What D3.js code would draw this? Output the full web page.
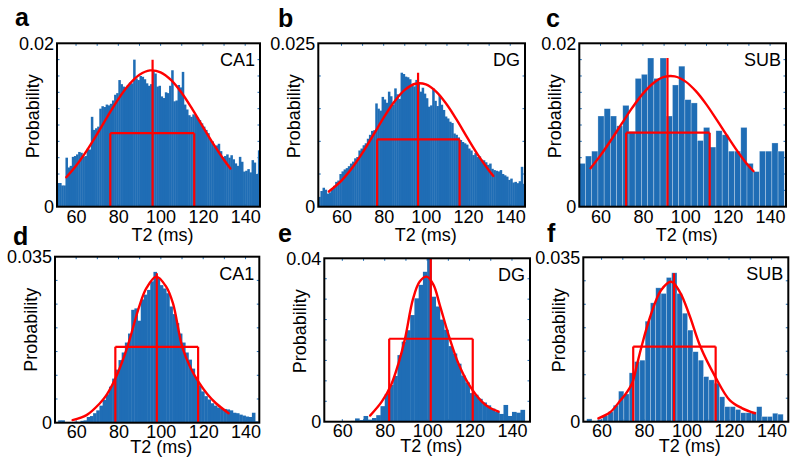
<!DOCTYPE html>
<html><head><meta charset="utf-8">
<script src="https://cdn.jsdelivr.net/npm/d3@7"></script>
<style>body{margin:0;background:#fff}svg{display:block;font-family:"Liberation Sans",Arial,sans-serif}</style>
</head><body><svg id="chart" width="800" height="467"></svg>
<script>
// ---------- data ----------
const panelLetters = ["a","b","c","d","e","f"];
const regions = ["CA1","DG","SUB","CA1","DG","SUB"];
const yMax = [0.02,0.025,0.02,0.035,0.04,0.035];
const yTopLabels = ["0.02","0.025","0.02","0.035","0.04","0.035"];
const yMinorStep = [0.002,0.005,0.002,0.005,0.005,0.005];
const xTickLabels = [60,80,100,120,140];
const xMinorTicks = [60,70,80,90,100,110,120,130,140];
const xDomains = [[51,147],[49,147],[50,147.5],[50,146.5],[51.5,148.5],[51.4,147.9]];
const binStarts = [51,49,50,50,52,53];
const binWidths = [1,1,2.93,1.5,2,2.5];
// histogram probabilities, in units of 1e-3
const histA = [2.9,2.9,2.6,2.6,6.0,4.8,5.0,6.1,6.2,6.4,
 6.7,6.6,6.1,6.2,7.1,7.0,11.0,9.4,9.6,9.8,
 12.0,12.3,12.2,12.5,12.4,12.6,13.0,13.7,13.9,15.5,
 15.0,14.7,14.6,14.9,15.2,15.1,18.0,15.7,15.5,16.0,
 15.9,15.6,15.1,14.8,15.0,16.6,16.3,14.7,14.8,13.5,
 13.3,14.0,13.9,14.8,16.7,12.9,13.0,14.9,14.6,16.5,
 12.5,11.9,11.2,11.0,11.3,11.1,10.9,10.6,10.2,9.8,
 9.4,9.0,8.2,8.0,7.3,7.5,7.7,6.8,6.1,6.2,
 6.4,6.0,6.3,5.8,5.3,5.0,6.1,5.5,4.3,4.4,
 4.6,4.2,5.7,5.4,4.0,6.9];
const histB = [1.5,2.4,2.9,2.6,2.0,2.2,2.8,3.2,3.8,4.0,
 5.0,5.4,5.7,5.9,6.2,6.6,6.9,7.4,7.6,8.6,
 8.9,9.4,9.7,10.4,11.0,11.6,11.7,15.8,15.0,14.7,
 16.8,16.4,15.9,17.6,16.9,15.6,18.1,17.2,16.5,20.5,
 20.3,19.9,19.8,19.5,18.6,18.4,19.4,19.0,17.6,18.2,
 17.3,16.6,15.3,15.5,18.1,16.2,15.4,17.1,15.6,14.8,
 13.8,13.5,13.0,12.8,11.2,11.0,10.6,10.2,9.9,9.7,
 9.5,8.9,8.6,7.9,8.2,7.6,7.7,7.2,7.1,6.8,
 6.4,6.6,5.8,5.6,5.5,5.4,5.6,5.0,4.8,4.6,
 4.1,4.3,3.7,3.8,3.6,3.9,6.1,3.5];
const histC = [5.3,6.2,6.8,11.1,12.0,11.1,9.9,12.4,9.2,15.7,
 16.2,18.2,15.7,18.2,11.1,14.9,17.2,13.1,12.7,8.1,
 9.7,7.3,9.3,8.8,6.8,6.8,9.7,5.3,4.3,6.8,
 6.8,7.8,6.8];
const histD = [0,0.5,0.5,0,0,0.1,0.2,0.2,0.4,0.5,
 1.2,1.4,2.0,2.6,3.6,4.8,6.0,7.6,9.3,11.2,
 13.2,14.8,16.9,18.8,23.8,24.1,21.5,26.0,27.0,28.0,
 29.8,31.8,30.6,29.0,28.3,27.3,24.5,22.9,21.0,18.8,
 16.9,14.8,13.3,11.4,9.4,7.9,6.6,5.6,4.9,4.1,
 3.6,3.2,3.0,2.9,2.8,2.6,2.1,2.0,1.7,1.5,
 1.3,1.2,2.1,0.3];
const histE = [0,0,0,0.1,0.15,0,0.2,0.8,0.4,1.4,
 0.5,0.9,1.6,3.8,6.8,9.0,11.2,16.3,19.6,22.4,
 26.1,30.2,33.5,36.7,40.0,30.6,28.2,25.0,22.5,18.5,
 16.7,14.2,11.3,9.6,7.0,6.6,5.6,4.7,4.0,3.2,
 2.4,1.9,4.1,1.4,2.4,2.2,2.9,0];
const histF = [0.6,0,0.5,1.3,2.1,3.5,6.5,5.9,10.4,12.8,
 13.1,21.4,25.3,28.5,27.3,30.7,31.7,27.3,23.1,19.5,
 14.9,13.1,9.6,8.9,8.2,5.3,3.2,3.2,2.6,1.9,
 1.9,2.1,3.2,1.1,1.1,1.8,1.6];
// fitted curves [T2, probability x1e-3]
const fitA = [[55.4,3.6],[60,5.01],[65,6.84],[70,8.91],[75,11.09],[80,13.17],[85,14.92],[90,16.15],[95,16.68],[100,16.45],[105,15.49],[110,13.92],[115,11.94],[120,9.78],[125,7.65],[130,5.71],[133,4.68]];
const fitB = [[54,2.32],[60,4.0],[65,5.92],[70,8.27],[75,10.92],[80,13.62],[85,16.05],[90,17.88],[95,18.81],[100,18.71],[105,17.58],[110,15.6],[115,13.09],[120,10.37],[125,7.77],[130,5.5],[132,4.71]];
const fitC = [[55.3,4.7],[60,6.28],[65,8.16],[70,10.16],[75,12.12],[80,13.84],[85,15.15],[90,15.88],[95,15.95],[100,15.34],[105,14.14],[110,12.49],[115,10.56],[120,8.56],[125,6.64],[130,4.94],[132.2,4.34]];
const fitD = [[58.3,0.56],[64.9,1.6],[71.2,4.1],[74.3,5.8],[78.5,9.3],[84.2,16.0],[88.4,22.5],[90,24.8],[93.1,28.3],[97.8,30.8],[102.5,28.7],[105.7,25.2],[110.1,16.0],[114,11.6],[117.8,8.6],[122,6.0],[126,4.1],[132,2.0]];
const fitE = [[73.1,1.5],[78.6,4.9],[83,9.0],[86.5,14.3],[89.6,20.4],[93.3,30.0],[96.5,34.3],[99.8,35.5],[103,33.5],[106,28.5],[110.6,20.4],[114.7,14.3],[119.8,9.0],[125.8,4.9],[129.5,3.4],[133.7,2.45]];
const fitF = [[58.5,0.7],[64,2.0],[69,4.6],[71.5,6.0],[74.5,8.3],[76.5,11.8],[78.7,15.8],[83,22.5],[88,28.0],[92.8,29.8],[97,27.5],[101.5,22.5],[106.5,16.0],[113.6,9.5],[120.3,4.6],[126,2.9],[132.2,1.8]];
// mean line (x, top x1e-3) and width box (left, right, height x1e-3)
const meanX = [96.2,96.3,91.6,98.1,101.7,94.1];
const meanTop = [18.0,20.5,18.2,31.5,40,31.6];
const boxLeft = [76.2,76.9,72.1,78.5,82.1,74.9];
const boxRight = [115.9,116,111.5,117.6,121.5,113.7];
const boxHeight = [9.0,10.3,9.06,16.0,20.3,16.0];

const hists = [histA,histB,histC,histD,histE,histF];
const fits = [fitA,fitB,fitC,fitD,fitE,fitF];

// ---------- layout ----------
const frames = [[57,260,43.3,206.7],[318.3,525,43.3,206.7],[579.3,786,43.3,206.7],
                [55,259.3,256.7,422.7],[324.3,530,258.3,421.7],[583.3,788.3,257.3,421.7]];
const letterPos = [[15,26],[278,26.5],[546,26.5],[13,245],[278,242],[547,242]];
const separated = [false,false,true,false,false,true];
const BLUE = "#1f6db5", RED = "#ff0000";
const FS = 18;

const svg = d3.select("#chart");
const defs = svg.append("defs");

frames.forEach((fr,i)=>{
  const [x0,x1,y0,y1] = fr;
  const row = i<3?0:1;
  const x = d3.scaleLinear().domain(xDomains[i]).range([x0,x1]);
  const y = d3.scaleLinear().domain([0,yMax[i]]).range([y1,y0]);
  const g = svg.append("g");
  defs.append("clipPath").attr("id","clip"+i).append("rect")
    .attr("x",x0).attr("y",y0).attr("width",x1-x0).attr("height",y1-y0);
  const plot = g.append("g").attr("clip-path",`url(#clip${i})`);

  const bs = binStarts[i], bw = binWidths[i];
  plot.selectAll("rect.bar").data(hists[i]).join("rect")
    .attr("class","bar")
    .attr("x",(d,j)=>x(bs+j*bw))
    .attr("width",(d,j)=>x(bs+(j+1)*bw)-x(bs+j*bw)+(separated[i]?0:0.4))
    .attr("y",d=>y(d*1e-3))
    .attr("height",d=>y(0)-y(d*1e-3))
    .attr("fill",BLUE)
    .attr("stroke",separated[i]?"rgba(255,255,255,0.45)":"none")
    .attr("stroke-width",0.6);

  // minor ticks (blue, inward)
  const tk = 2.5;
  xMinorTicks.forEach(v=>{
    plot.append("line").attr("x1",x(v)).attr("x2",x(v)).attr("y1",y0).attr("y2",y0+tk).attr("stroke",BLUE).attr("stroke-width",1);
    plot.append("line").attr("x1",x(v)).attr("x2",x(v)).attr("y1",y1).attr("y2",y1-tk).attr("stroke",BLUE).attr("stroke-width",1);
  });
  d3.range(yMinorStep[i], yMax[i]-1e-9, yMinorStep[i]).forEach(v=>{
    plot.append("line").attr("x1",x1).attr("x2",x1-tk).attr("y1",y(v)).attr("y2",y(v)).attr("stroke",BLUE).attr("stroke-width",1);
    plot.append("line").attr("x1",x0).attr("x2",x0+tk).attr("y1",y(v)).attr("y2",y(v)).attr("stroke",BLUE).attr("stroke-width",1);
  });

  // red box and mean line
  const addLine=(xa,ya,xb,yb)=>plot.append("line").attr("x1",xa).attr("y1",ya).attr("x2",xb).attr("y2",yb)
      .attr("stroke",RED).attr("stroke-width",2.2).attr("fill","none");
  addLine(x(boxLeft[i]),y(0),x(boxLeft[i]),y(boxHeight[i]*1e-3));
  addLine(x(boxRight[i]),y(0),x(boxRight[i]),y(boxHeight[i]*1e-3));
  addLine(x(boxLeft[i]),y(boxHeight[i]*1e-3),x(boxRight[i]),y(boxHeight[i]*1e-3));
  addLine(x(meanX[i]),y(0),x(meanX[i]),y(meanTop[i]*1e-3));

  // fitted curve
  const line = d3.line().x(d=>x(d[0])).y(d=>y(d[1]*1e-3)).curve(d3.curveCatmullRom.alpha(0.5));
  plot.append("path").attr("d",line(fits[i])).attr("fill","none").attr("stroke",RED).attr("stroke-width",2.4).attr("stroke-linecap","round");

  // frame
  g.append("rect").attr("x",x0).attr("y",y0).attr("width",x1-x0).attr("height",y1-y0)
    .attr("fill","none").attr("stroke","#000").attr("stroke-width",2);

  // axes labels
  const xa = g.append("g").attr("transform",`translate(0,${y1})`)
    .call(d3.axisBottom(x).tickValues(xTickLabels).tickSize(0).tickPadding(row===0?4:2.5));
  xa.select(".domain").remove();
  xa.selectAll("text").attr("font-size",FS).attr("font-family","Liberation Sans, Arial, sans-serif").attr("fill","#000");

  const ya = g.append("g").attr("transform",`translate(${x0},0)`)
    .call(d3.axisLeft(y).tickValues([0,yMax[i]]).tickSize(0).tickPadding(3)
      .tickFormat((d,k)=>k===0?"0":yTopLabels[i]));
  ya.select(".domain").remove();
  ya.selectAll("text").attr("font-size",FS).attr("font-family","Liberation Sans, Arial, sans-serif").attr("fill","#000");

  // axis titles
  g.append("text").attr("x",(x0+x1)/2+4).attr("y",y1+(row===0?34:30.5))
    .attr("text-anchor","middle").attr("font-size",FS).text("T2 (ms)");
  g.append("text").attr("transform",`translate(${x0-24},${y0+73}) rotate(-90)`)
    .attr("text-anchor","middle").attr("dominant-baseline","central").attr("font-size",FS).text("Probability");

  // region label
  g.append("text").attr("x",x1-5).attr("y",y0+23).attr("text-anchor","end").attr("font-size",FS).text(regions[i]);

  // panel letter
  g.append("text").attr("x",letterPos[i][0]).attr("y",letterPos[i][1]).attr("font-size",25)
    .attr("font-weight","bold").text(panelLetters[i]);
});
</script></body></html>
